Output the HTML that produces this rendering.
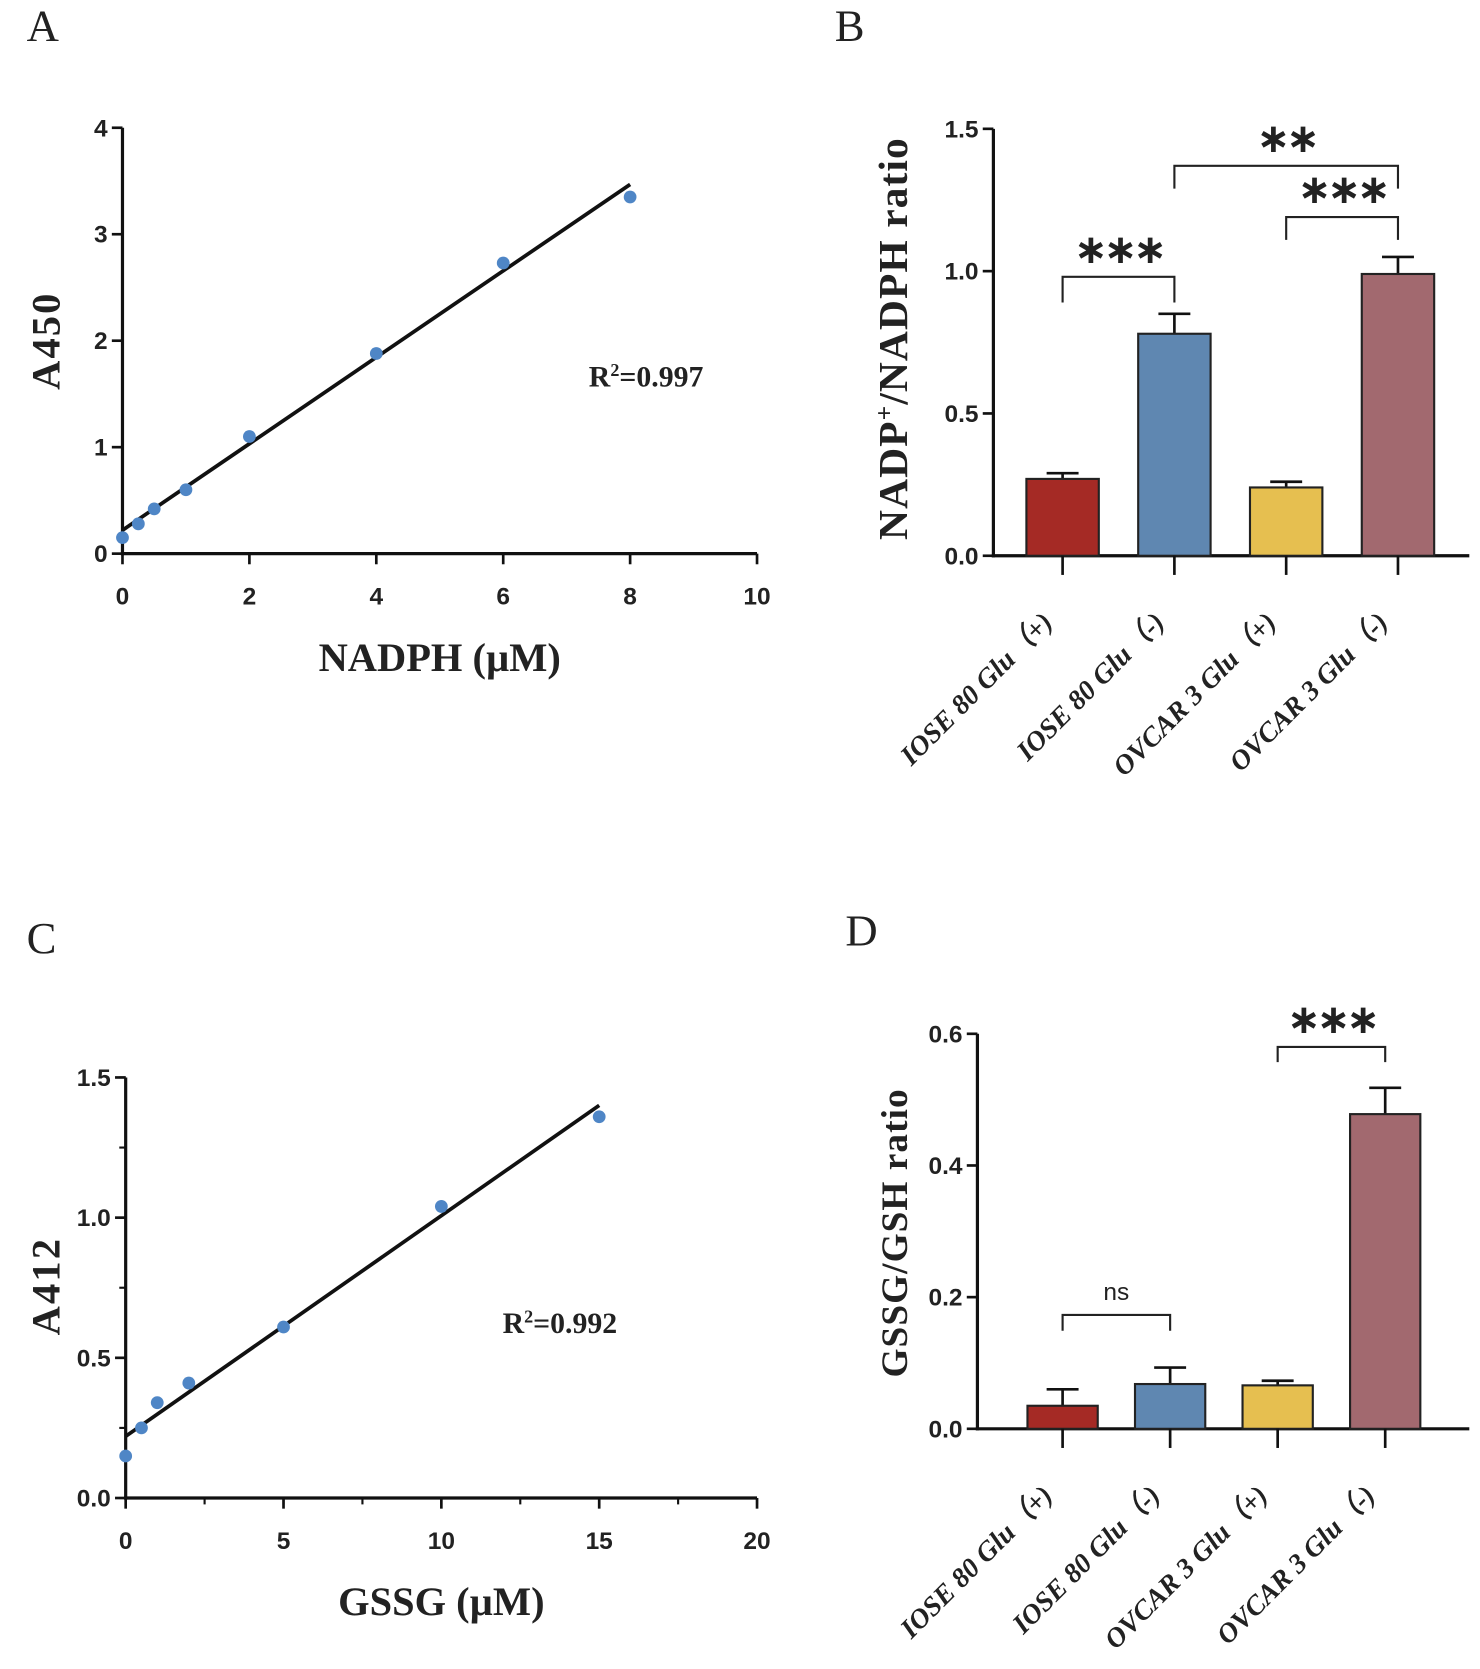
<!DOCTYPE html>
<html><head><meta charset="utf-8">
<style>
html,body{margin:0;padding:0;background:#fff;}
svg{display:block;}
.tick{font-family:"Liberation Sans",sans-serif;font-weight:bold;font-size:23px;fill:#222;}
.ser{font-family:"Liberation Serif",serif;font-weight:bold;fill:#222;}
.star{font-family:"DejaVu Sans",sans-serif;font-weight:bold;fill:#222;}
</style></head>
<body>
<svg id="fig" width="1480" height="1669" viewBox="0 0 1390 1567.6" xmlns="http://www.w3.org/2000/svg">
<text x="25" y="38" class="ser" style="font-weight:normal;font-size:42px">A</text>
<text x="784" y="38" class="ser" style="font-weight:normal;font-size:42px">B</text>
<text x="25" y="895" class="ser" style="font-weight:normal;font-size:42px">C</text>
<text x="794" y="888" class="ser" style="font-weight:normal;font-size:42px">D</text>
<g id="gA"></g>
<g id="gB"></g>
<g id="gC"></g>
<g id="gD"></g>
</svg>
<script>
// Panel A data
const aX = [0, 0.25, 0.5, 1, 2, 4, 6, 8];
const aY = [0.15, 0.28, 0.42, 0.6, 1.1, 1.88, 2.73, 3.35];
const aFit = [0.22, 0.406]; // intercept, slope
const aXTicks = [0, 2, 4, 6, 8, 10];
const aYTicks = [0, 1, 2, 3, 4];
// Panel C data
const cX = [0, 0.5, 1, 2, 5, 10, 15];
const cY = [0.15, 0.25, 0.34, 0.41, 0.61, 1.04, 1.36];
const cFit = [0.22, 0.0787];
const cXTicks = [0, 5, 10, 15, 20];
const cYTicks = [0, 0.5, 1.0, 1.5];
// Panel B data
const categories = ["IOSE 80 Glu（+)", "IOSE 80 Glu（-)", "OVCAR 3 Glu（+)", "OVCAR 3 Glu（-)"];
const bVals = [0.27, 0.78, 0.24, 0.99];
const bErr = [0.02, 0.07, 0.02, 0.06];
const bTicks = [0, 0.5, 1.0, 1.5];
// Panel D data
const dVals = [0.035, 0.068, 0.066, 0.478];
const dErr = [0.025, 0.025, 0.007, 0.04];
const dTicks = [0, 0.2, 0.4, 0.6];
const colors = ["#a52a25", "#5f87b1", "#e6bf50", "#a2696f"];

const NS = "http://www.w3.org/2000/svg";
function mk(parent, tag, attrs, text) {
  const e = document.createElementNS(NS, tag);
  for (const k in attrs) e.setAttribute(k, attrs[k]);
  if (text !== undefined) e.textContent = text;
  parent.appendChild(e);
  return e;
}

function scatter(g, o) {
  const sx = v => o.x0 + (v - o.xmin) / (o.xmax - o.xmin) * (o.x1 - o.x0);
  const sy = v => o.y0 - (v - o.ymin) / (o.ymax - o.ymin) * (o.y0 - o.y1);
  let e = mk(g, "line", {x1: o.x0, y1: o.y0 + 1.5, x2: o.x0, y2: o.y1, stroke: "#111", "stroke-width": 3});
  
  
  e = mk(g, "line", {x1: o.x0 - 1.5, y1: o.y0, x2: o.x1, y2: o.y0, stroke: "#111", "stroke-width": 3});
  
  
  o.xt.forEach(v => {
    mk(g, "line", {x1: sx(v), y1: o.y0, x2: sx(v), y2: o.y0 + 10, stroke: "#111", "stroke-width": 2.5});
    const t = mk(g, "text", {x: sx(v), y: o.y0 + 48, "text-anchor": "middle", class: "tick"}, String(v));
    
    
  });
  if (o.xminor) for (let v = o.xmin; v <= o.xmax; v += o.xminor) mk(g, "line", {x1: sx(v), y1: o.y0, x2: sx(v), y2: o.y0 + 6, stroke: "#111", "stroke-width": 2});
  o.yt.forEach(v => {
    mk(g, "line", {x1: o.x0 - 10, y1: sy(v), x2: o.x0, y2: sy(v), stroke: "#111", "stroke-width": 2.5});
    const t = mk(g, "text", {x: o.x0 - 14, y: sy(v) + 8, "text-anchor": "end", class: "tick"}, o.fmt(v));
    
    
  });
  if (o.yminor) for (let v = o.ymin; v <= o.ymax; v += o.yminor) mk(g, "line", {x1: o.x0 - 6, y1: sy(v), x2: o.x0, y2: sy(v), stroke: "#111", "stroke-width": 2});
  const xe = o.xs[o.xs.length - 1];
  e = mk(g, "line", {x1: sx(0), y1: sy(o.fit[0]), x2: sx(xe), y2: sy(o.fit[0] + o.fit[1] * xe), stroke: "#111", "stroke-width": 3.5});
  
  
  o.xs.forEach((v, i) => {
    const c = mk(g, "circle", {cx: sx(v), cy: sy(o.ys[i]), r: 6, fill: "#4f86c6"});
    
    
  });
  e = mk(g, "text", {x: (o.x0 + o.x1) / 2, y: o.y0 + 110, "text-anchor": "middle", class: "ser", "font-size": 38}, o.xtitle);
  
  
  e = mk(g, "text", {x: 0, y: 0, transform: `translate(${o.ytx},${o.yty}) rotate(-90)`, "text-anchor": "middle", class: "ser", "font-size": 38, "letter-spacing": 2}, o.ytitle);
  
  
  e = mk(g, "text", {x: o.rx, y: o.ry, class: "ser", "font-size": 28});
  e.innerHTML = 'R<tspan dy="-10" font-size="17">2</tspan><tspan dy="10">=' + o.r2 + '</tspan>';
  
  
}

function bars(g, o) {
  const sy = v => o.y0 - (v - 0) / o.ymax * (o.y0 - o.y1);
  let e = mk(g, "line", {x1: o.x0, y1: o.y0 + 1.5, x2: o.x0, y2: o.y1, stroke: "#111", "stroke-width": 3});
  
  
  e = mk(g, "line", {x1: o.x0 - 1.5, y1: o.y0, x2: o.x1, y2: o.y0, stroke: "#111", "stroke-width": 3});
  
  
  o.yt.forEach(v => {
    mk(g, "line", {x1: o.x0 - 10, y1: sy(v), x2: o.x0, y2: sy(v), stroke: "#111", "stroke-width": 2.5});
    const t = mk(g, "text", {x: o.x0 - 14, y: sy(v) + 8, "text-anchor": "end", class: "tick"}, v.toFixed(1));
    
    
  });
  const cx = i => o.c0 + i * o.step;
  o.vals.forEach((v, i) => {
    const x = cx(i);
    const top = sy(v), et = sy(v + o.err[i]);
    mk(g, "line", {x1: x, y1: top, x2: x, y2: et, stroke: "#111", "stroke-width": 2.5});
    mk(g, "line", {x1: x - 15, y1: et, x2: x + 15, y2: et, stroke: "#111", "stroke-width": 2.5});
    const r = mk(g, "rect", {x: x - o.bw / 2, y: top, width: o.bw, height: o.y0 - top, fill: colors[i], stroke: "#222", "stroke-width": 2});
    
    
    mk(g, "line", {x1: x, y1: o.y0, x2: x, y2: o.y0 + 18, stroke: "#111", "stroke-width": 2.5});
    const t = mk(g, "text", {x: 0, y: 0, transform: `translate(${x - 8},${o.y0 + 64}) rotate(-45)`, "text-anchor": "end", class: "ser", "font-size": 26, "font-style": "italic"}, categories[i]);
    
    
  });
  o.sig.forEach(s => {
    const xa = cx(s[0]), xb = cx(s[1]), yt = sy(s[2]), yd = sy(s[3]);
    const p = mk(g, "path", {d: `M${xa},${yd} V${yt} H${xb} V${yd}`, fill: "none", stroke: "#222", "stroke-width": 2});
    
    
    const isNs = s[4] === "ns";
    const label = isNs ? "ns" : s[4].replace(/\*/g, "\u2217");
    const t = isNs
      ? mk(g, "text", {x: (xa + xb) / 2, y: yt - 14, "text-anchor": "middle", class: "tick", "font-size": 25, style: "font-weight:normal"}, label)
      : mk(g, "text", {x: (xa + xb) / 2, y: yt - 13, "text-anchor": "middle", class: "star", "font-size": 38, "letter-spacing": -4}, label);
    
    
  });
  e = mk(g, "text", {x: 0, y: 0, transform: `translate(${o.ytx},${o.yty}) rotate(-90)`, "text-anchor": "middle", class: "ser", "font-size": o.yfs, "letter-spacing": 1});
  e.innerHTML = o.ytitle;
  
  
}

scatter(document.getElementById("gA"), {x0: 115, x1: 711, y0: 520, y1: 120, xmin: 0, xmax: 10, ymin: 0, ymax: 4,
  xs: aX, ys: aY, fit: aFit, xt: aXTicks, yt: aYTicks, fmt: v => String(v), xtitle: "NADPH (µM)", ytitle: "A450",
  ytx: 56, yty: 320, rx: 553, ry: 363, r2: "0.997"});
scatter(document.getElementById("gC"), {x0: 118, x1: 711, y0: 1407, y1: 1012, xmin: 0, xmax: 20, ymin: 0, ymax: 1.5,
  xs: cX, ys: cY, fit: cFit, xt: cXTicks, yt: cYTicks, fmt: v => v.toFixed(1), xminor: 2.5, yminor: 0.25, xtitle: "GSSG (µM)", ytitle: "A412",
  ytx: 56, yty: 1208, rx: 472, ry: 1252, r2: "0.992"});
bars(document.getElementById("gB"), {x0: 933, x1: 1380, y0: 522, y1: 121, ymax: 1.5, yt: bTicks, vals: bVals, err: bErr,
  c0: 998, step: 105, bw: 68, ytx: 852, yty: 318, yfs: 39,
  ytitle: 'NADP<tspan dy="-14" font-size="24">+</tspan><tspan dy="14">/NADPH ratio</tspan>',
  sig: [[0, 1, 0.98, 0.89, "***"], [2, 3, 1.19, 1.11, "***"], [1, 3, 1.37, 1.29, "**"]]});
bars(document.getElementById("gD"), {x0: 918, x1: 1380, y0: 1342, y1: 971, ymax: 0.6, yt: dTicks, vals: dVals, err: dErr,
  c0: 998, step: 101, bw: 66, ytx: 852, yty: 1158, yfs: 35, ytitle: "GSSG/GSH ratio",
  sig: [[0, 1, 0.173, 0.149, "ns"], [2, 3, 0.58, 0.557, "***"]]});
</script>
</body></html>
